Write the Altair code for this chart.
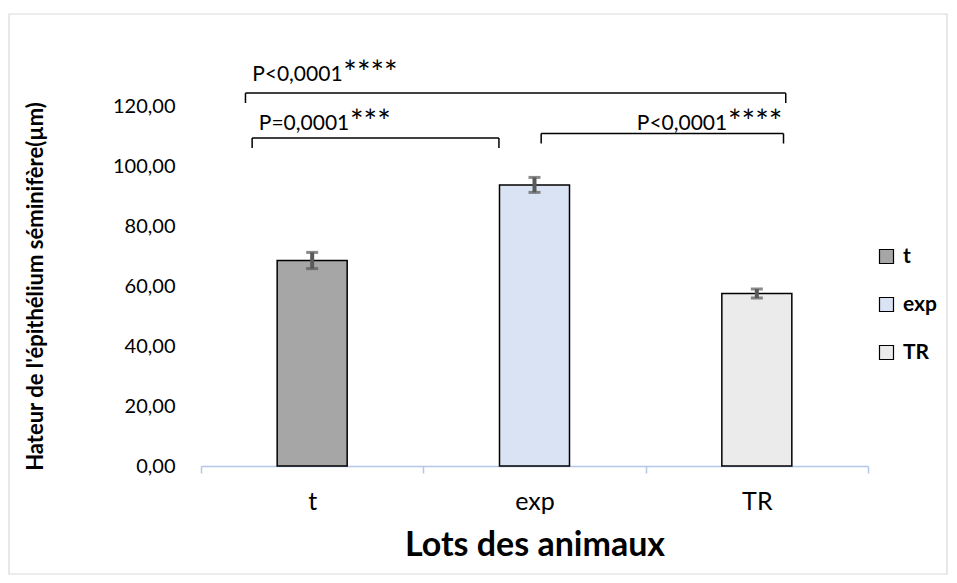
import altair as alt
import pandas as pd

# ---- data ----
groups = ["t", "exp", "TR"]
means = [68.5, 93.7, 57.5]
errors = [2.7, 2.5, 1.5]
fills = ["#a6a6a6", "#dae3f3", "#ebebeb"]
y_ticks = [0, 20, 40, 60, 80, 100, 120]

# significance brackets (x in category-index units, y in axis units)
br_left = [-0.30, -0.27, 1.03]
br_right = [2.13, 0.84, 2.12]
br_top = [124.3, 109.3, 110.8]
br_bottom = [121.0, 106.0, 107.5]
p_texts = ["P<0,0001", "P=0,0001", "P<0,0001"]
p_x = [-0.27, -0.24, 1.46]
p_y = [128.3, 112.0, 112.0]
stars = ["****", "***", "****"]
stars_x = [0.14, 0.17, 1.87]

FONT = "Lato"
W, H = 667, 360
X_TITLE = "Lots des animaux"
Y_TITLE = "Hateur de l'épithélium séminifère(µm)"

df = pd.DataFrame({"group": groups, "mean": means, "err": errors})
df["lo"] = df["mean"] - df["err"]
df["hi"] = df["mean"] + df["err"]

br = pd.DataFrame({"left": br_left, "right": br_right, "top": br_top, "bottom": br_bottom})
txt = pd.DataFrame({"label": p_texts, "px": p_x, "py": p_y, "stars": stars, "sx": stars_x})

yscale = alt.Scale(domain=[0, 120], nice=False)
ylab = "replace(format(datum.value, '.2f'), '.', ',')"

x_axis = alt.Axis(labelAngle=0, tickBand="extent", domainColor="#b4c7e7", tickColor="#b4c7e7",
                  tickSize=7, domainWidth=1.5, tickWidth=1.5,
                  labelFont=FONT, labelFontSize=25, labelColor="#000", labelPadding=16,
                  titleFont=FONT, titleFontSize=34, titleFontWeight="bold", titleColor="#000",
                  titlePadding=14)
y_axis = alt.Axis(values=y_ticks, labelExpr=ylab, grid=False, domain=False, ticks=False,
                  labelPadding=26, labelFont=FONT, labelFontSize=20, labelColor="#000",
                  titleFont=FONT, titleFontSize=22, titleFontWeight="bold", titleColor="#000",
                  titleX=-166, titleBaseline="middle")


def xb():
    return alt.X("group:N", sort=groups, title=X_TITLE,
                 scale=alt.Scale(paddingInner=0, paddingOuter=0), axis=x_axis)


def yq(field):
    return alt.Y(field, scale=yscale, title=Y_TITLE, axis=y_axis)


bars = alt.Chart(df).mark_bar(width=70, stroke="black", strokeWidth=1.5).encode(
    x=xb(),
    y=yq("mean:Q"),
    color=alt.Color("group:N", sort=groups, scale=alt.Scale(domain=groups, range=fills),
                    legend=alt.Legend(title=None, orient="none", legendX=675, legendY=140,
                                      symbolType="square", symbolSize=196,
                                      symbolStrokeColor="black", symbolStrokeWidth=1.2,
                                      labelFont=FONT, labelFontSize=21, labelFontWeight="bold",
                                      labelColor="#000", rowPadding=26, labelOffset=6, padding=0)),
)

stems = alt.Chart(df).mark_rule(color="#595959", strokeWidth=4).encode(
    x=xb(), y=yq("lo:Q"), y2="hi:Q")
caps_lo = alt.Chart(df).mark_tick(color="#595959", thickness=3, size=12).encode(
    x=xb(), y=yq("lo:Q"))
caps_hi = alt.Chart(df).mark_tick(color="#595959", thickness=3, size=12).encode(
    x=xb(), y=yq("hi:Q"))

main = alt.layer(bars, stems, caps_lo, caps_hi)

xq = alt.Scale(domain=[-0.5, 2.5], nice=False, zero=False)
yq2 = alt.Scale(domain=[0, 120], nice=False)

frame = alt.Chart(pd.DataFrame({"a": [0]})).mark_rect(fill="transparent", stroke="#d9d9d9", strokeWidth=1.2).encode(
    x=alt.value(-192), x2=alt.value(746), y=alt.value(-92), y2=alt.value(468))

h_lines = alt.Chart(br).mark_rule(color="black", strokeWidth=1.5).encode(
    x=alt.X("left:Q", scale=xq, axis=None), x2="right:Q",
    y=alt.Y("top:Q", scale=yq2, axis=None))
v_left = alt.Chart(br).mark_rule(color="black", strokeWidth=1.5).encode(
    x=alt.X("left:Q", scale=xq, axis=None),
    y=alt.Y("bottom:Q", scale=yq2, axis=None), y2="top:Q")
v_right = alt.Chart(br).mark_rule(color="black", strokeWidth=1.5).encode(
    x=alt.X("right:Q", scale=xq, axis=None),
    y=alt.Y("bottom:Q", scale=yq2, axis=None), y2="top:Q")
p_lab = alt.Chart(txt).mark_text(align="left", baseline="alphabetic", font=FONT, fontSize=21, color="#000").encode(
    x=alt.X("px:Q", scale=xq, axis=None), y=alt.Y("py:Q", scale=yq2, axis=None), text="label:N")
s_lab = alt.Chart(txt).mark_text(align="left", baseline="alphabetic", font=FONT, fontSize=32, dy=3, color="#000").encode(
    x=alt.X("sx:Q", scale=xq, axis=None), y=alt.Y("py:Q", scale=yq2, axis=None), text="stars:N")

annot = alt.layer(frame, h_lines, v_left, v_right, p_lab, s_lab)

chart = alt.layer(main, annot).resolve_scale(x="independent", y="independent").properties(
    width=W, height=H,
    autosize=alt.AutoSizeParams(type="none"),
    padding={"left": 193, "top": 98, "right": 81, "bottom": 109},
).configure_view(strokeWidth=0)

chart.save("out.html", embed_options={"renderer": "svg", "actions": False})
